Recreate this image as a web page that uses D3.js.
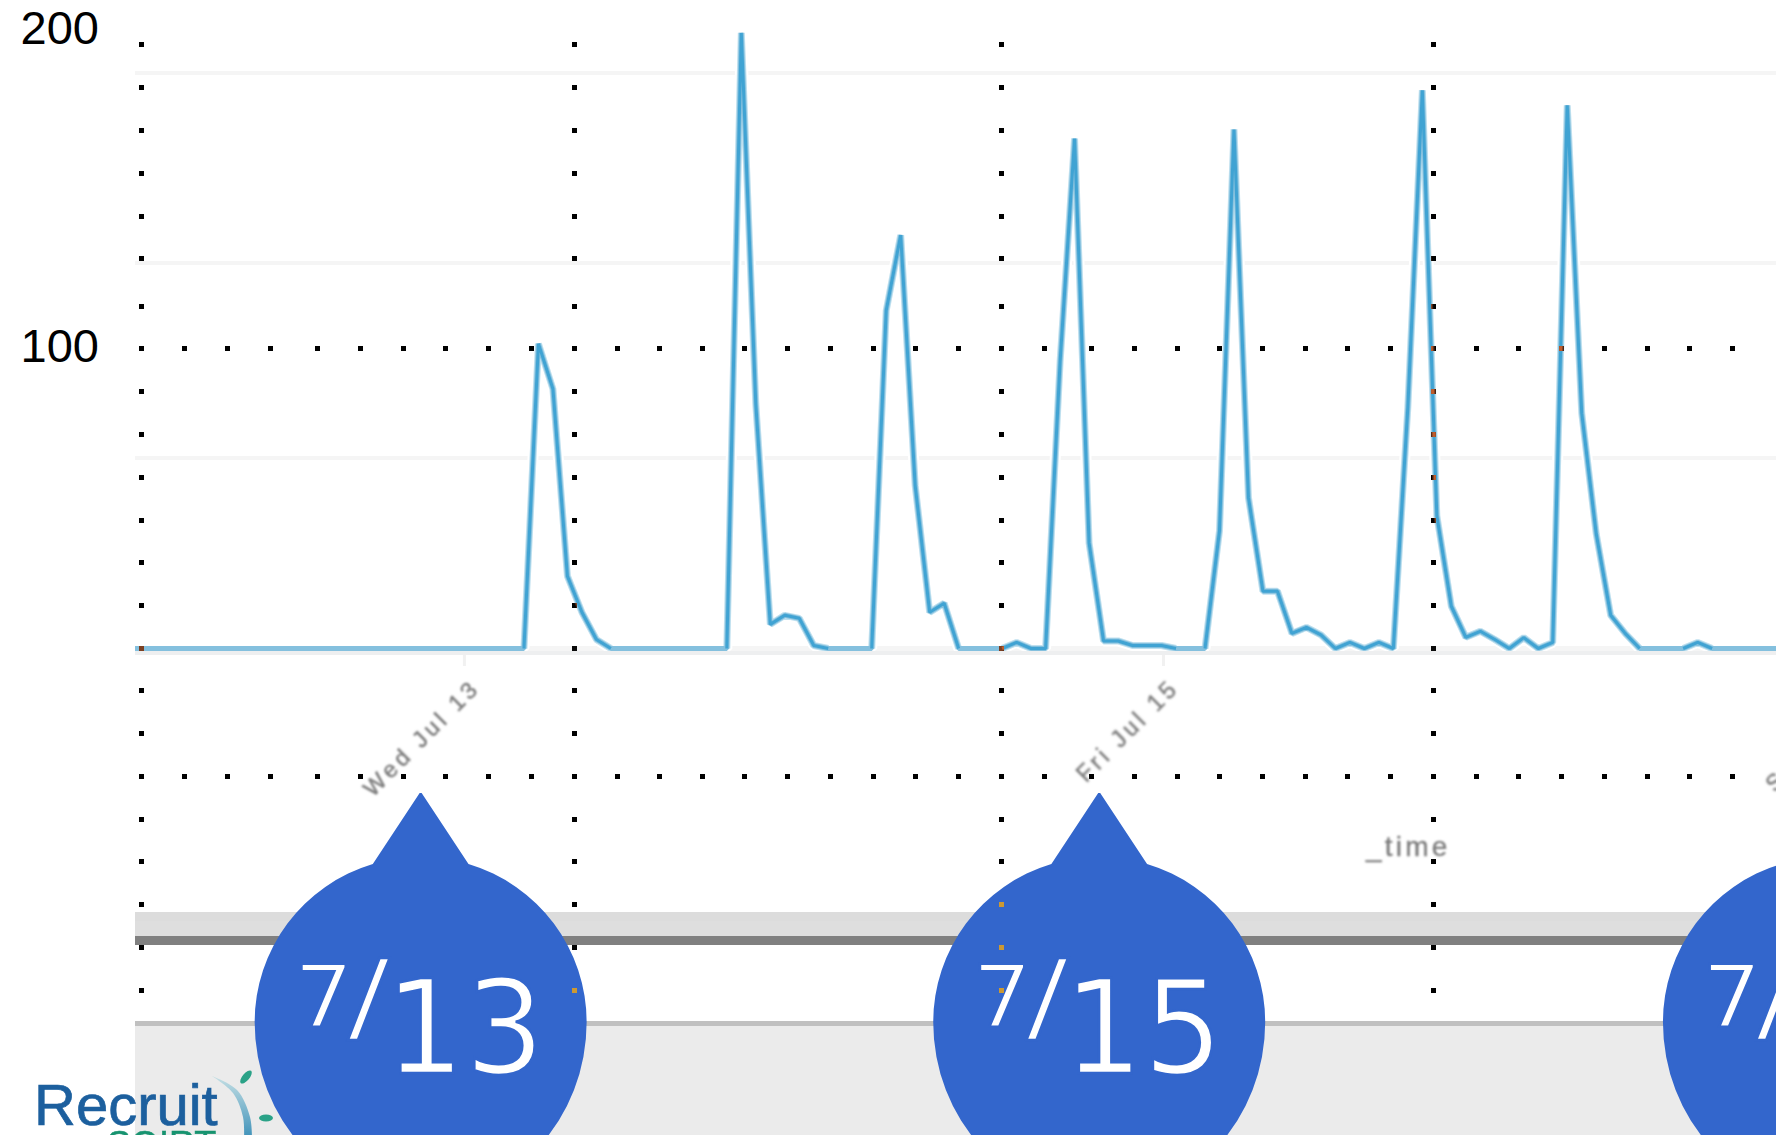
<!DOCTYPE html>
<html><head><meta charset="utf-8">
<script src="https://cdn.jsdelivr.net/npm/d3@7"></script>
<style>
html,body{margin:0;padding:0;background:#fff;overflow:hidden}
svg{display:block;font-family:"Liberation Sans",Arial,sans-serif}
</style></head><body>
<svg id="c" width="1776" height="1135"></svg>
<script>
// ---- data (hourly, hour 0 = first sample of Jul 13)
const firstHour = -23;
const series = [
 0,0,0,0,0,0,0,0,0,0,0,0,0,0,0,0,0,0,0,0,0,0,0,0,0,0,0, // -23..3
 0,101,86,24,12,3,0,0,0,0,0,0,0,0,                      // 4..17
 0,204,81,8,11,10,1,0,0,0,                              // 18..27
 0,112,137,54,12,15,0,0,0,0,2,0,                        // 28..39
 0,95,169,35,2.5,2.5,1,1,1,0,0,0,                       // 40..51
 39,172,50,19,19,5,7,4.5,0,2,0,2,0,                     // 52..64
 80,185,44,14,3.7,5.7,3,0,3.6,0,2,                      // 65..75
 180,78,38,11,5,0,0,0,0,2,0,0,0,0,0,0,0                 // 76..92
];
const yTickLabels = ["100","200"];
const yTickValues = [100,200];
const xTickHours = [-0.11,48.14,96.4];
const xTickLabels = ["Wed Jul 13","Fri Jul 15","Sun Jul 17"];
const dropHours = [-3.13,43.7,94.06];
const dropMonth = ["7","7","7"];
const dropDay = ["13","15","17"];

// ---- scales
const W=1776,H=1135;
const x=d3.scaleLinear().domain([0,100]).range([466,466+1449]);
const y=d3.scaleLinear().domain([0,200]).range([648.5,45]);
const hours=series.map((_,i)=>firstHour+i);

const svg=d3.select("#c");
const defs=svg.append("defs");
defs.append("clipPath").attr("id","plot").append("rect").attr("x",135).attr("y",0).attr("width",W-135).attr("height",H);
const soft=defs.append("filter").attr("id","soft").attr("x","-10%").attr("y","-10%").attr("width","120%").attr("height","120%");
soft.append("feGaussianBlur").attr("stdDeviation",1.1);
const soft2=defs.append("filter").attr("id","soft2").attr("filterUnits","userSpaceOnUse").attr("x",0).attr("y",0).attr("width",W).attr("height",H);
soft2.append("feGaussianBlur").attr("stdDeviation",0.6);
const arcGrad=defs.append("linearGradient").attr("id","arcG").attr("x1",0).attr("y1",0).attr("x2",0).attr("y2",1);
arcGrad.append("stop").attr("offset",0).attr("stop-color","#c5dfe4");
arcGrad.append("stop").attr("offset",1).attr("stop-color","#3a8fb8");

svg.append("rect").attr("width",W).attr("height",H).attr("fill","#fff");

// y axis labels
const labelY={100:362,200:43.5};
svg.append("g").selectAll("text").data(yTickValues).join("text")
  .attr("x",99).attr("y",d=>labelY[d]).attr("text-anchor","end")
  .attr("font-size",47).attr("fill","#000").text((d,i)=>yTickLabels[i]);

// faint grid
const gridYs=[458,263,73];
svg.append("g").selectAll("rect").data(gridYs).join("rect")
  .attr("x",135).attr("width",W-135).attr("y",d=>d-2).attr("height",4).attr("fill","#f5f5f5");
svg.append("rect").attr("x",135).attr("width",W-135).attr("y",646).attr("height",5).attr("fill","#f5f5f5");

// series: pale wide stroke everywhere, halo and darker core wherever the line is not flat on zero
const line=d3.line().x((d,i)=>x(hours[i])).y(d=>y(d));
const notFlat=(d,i)=>d!==0||(i>0&&series[i-1]!==0)||(i<series.length-1&&series[i+1]!==0);
const coreLine=d3.line().defined(notFlat).x((d,i)=>x(hours[i])).y(d=>y(d));
const plot=svg.append("g").attr("clip-path","url(#plot)");
plot.append("path").datum(series).attr("d",line).attr("fill","none").attr("stroke","#fff").attr("stroke-width",11).attr("stroke-linejoin","bevel");
svg.append("rect").attr("x",135).attr("width",W-135).attr("y",651).attr("height",4).attr("fill","#eeeff0");
plot.append("path").datum(series).attr("d",coreLine).attr("fill","none").attr("stroke","#bfe0ef").attr("stroke-width",7).attr("stroke-linejoin","bevel").attr("filter","url(#soft2)");
plot.append("path").datum(series).attr("d",line).attr("fill","none").attr("stroke","#84c0de").attr("stroke-width",5).attr("stroke-linejoin","bevel").attr("filter","url(#soft2)");
plot.append("path").datum(series).attr("d",coreLine).attr("fill","none").attr("stroke","#2f9bd0").attr("stroke-width",3).attr("stroke-opacity",.8).attr("stroke-linejoin","bevel");

// x ticks and labels
svg.append("g").selectAll("rect").data(xTickHours).join("rect")
  .attr("x",d=>x(d)-1.5).attr("y",655).attr("width",3).attr("height",11).attr("fill","#f1f1f1");
svg.append("g").attr("filter","url(#soft)").selectAll("text").data(xTickHours).join("text")
  .attr("transform",d=>`translate(${x(d)+17},${689}) rotate(-45)`)
  .attr("text-anchor","end").attr("font-size",23).attr("letter-spacing",3.9).attr("fill","#777")
  .attr("stroke","#888").attr("stroke-width",.6)
  .text((d,i)=>xTickLabels[i]);
svg.append("text").attr("x",1366).attr("y",856).attr("font-size",28).attr("letter-spacing",3.2)
  .attr("fill","#777").attr("stroke","#888").attr("stroke-width",.4).attr("filter","url(#soft)").text("_time");

// bands
const bands=[[912,9,"#dcdcdc"],[921,15,"#dedede"],[936,9,"#808080"],[1021,5,"#c0c0c0"],[1026,109,"#ebebeb"]];
svg.append("g").selectAll("rect").data(bands).join("rect")
  .attr("x",135).attr("width",W-135).attr("y",d=>d[0]).attr("height",d=>d[1]).attr("fill",d=>d[2]);

// logo
const logo=svg.append("g").attr("filter","url(#soft2)");
logo.append("text").attr("x",34).attr("y",1125).attr("font-size",58).attr("fill","#1b5f9e").attr("stroke","#1b5f9e").attr("stroke-width",.7).text("Recruit");
logo.append("text").attr("x",107).attr("y",1157).attr("font-size",36).attr("fill","#17936f").attr("stroke","#17936f").attr("stroke-width",.5).text("SOIRT");
const arcOuter=[[212,1076],[237,1090],[250,1117],[252,1140]];
const arcInner=[[244,1140],[243,1117],[233,1093],[212,1076]];
logo.append("path").attr("d",d3.line().curve(d3.curveCatmullRom)(arcOuter)+"L"+d3.line().curve(d3.curveCatmullRom)(arcInner).slice(1)+"Z")
  .attr("fill","url(#arcG)");
logo.append("ellipse").attr("cx",246).attr("cy",1077).attr("rx",8).attr("ry",3.5).attr("transform","rotate(-50 246 1077)").attr("fill","#2aa287");
logo.append("ellipse").attr("cx",266).attr("cy",1118).attr("rx",7).attr("ry",3.5).attr("fill","#2aa287");

// drops: pointed tip on a body slightly longer below its widest row
const tipY=793, midY=1022, rx=166, ryTop=165, ryBottom=178, shoulderY=864;
const shoulderX=rx*Math.sqrt(1-Math.pow((midY-shoulderY)/ryTop,2));
const drop=svg.append("g").selectAll("g").data(dropHours).join("g").attr("transform",d=>`translate(${x(d)},0)`);
drop.append("path").attr("fill","#3366cc").attr("d",
  `M-1,${tipY}L1,${tipY}L${shoulderX},${shoulderY}`+
  `A${rx},${ryTop} 0 0 1 ${rx},${midY}`+
  `A${rx},${ryBottom} 0 0 1 ${-rx},${midY}`+
  `A${rx},${ryTop} 0 0 1 ${-shoulderX},${shoulderY}Z`);
const txt=(sel)=>sel.attr("font-family","'DejaVu Sans'").attr("fill","#fff").attr("stroke","#3366cc");
txt(drop.append("text")).attr("x",-127).attr("y",1026).attr("font-size",86).attr("stroke-width",2.2)
  .attr("textLength",60).attr("lengthAdjust","spacingAndGlyphs").text((d,i)=>dropMonth[i]);
txt(drop.append("text")).attr("x",-73).attr("y",1031).attr("font-size",100).attr("stroke-width",2.4)
  .attr("textLength",42).attr("lengthAdjust","spacingAndGlyphs").text("/");
txt(drop.append("text")).attr("x",-36).attr("y",1073).attr("font-size",130).attr("stroke-width",2.6)
  .attr("textLength",160).attr("lengthAdjust","spacingAndGlyphs").text((d,i)=>dropDay[i]);

// dotted lattice, inverted against what lies beneath
const latticeCols=[141.6,574.5,1001.3,1433.4];
const latticeRowYs=[348.8,776.3];
const latticeColYs=[44.7,87.6,130.6,173.5,216,258.6,306.7,348.8,391.8,434.7,477.7,520,562.8,605.6,648.5,690.7,733.3,776.3,819.3,861,904.5,947,990];
const latticeRowXs=[141.6,184,227,270,317,360,403,445.6,488,531,574.5,617,659,702,744.6,787,830,873,915.7,958.2,1001.3,1044.3,1091.3,1134.3,1177.4,1219.9,1262.3,1305.4,1347.8,1390.3,1433.4,1476.4,1518.9,1561.3,1604.4,1647.4,1689.9,1732.4];
const cells=[];
latticeCols.forEach(cx=>latticeColYs.forEach(cy=>cells.push([cx,cy])));
latticeRowYs.forEach(ry=>latticeRowXs.forEach(rx=>{ if(!latticeCols.includes(rx)) cells.push([rx,ry]); }));
svg.append("g").selectAll("rect").data(cells).join("rect")
  .attr("x",d=>Math.round(d[0]-2.5)).attr("y",d=>Math.round(d[1]-2.5)).attr("width",5).attr("height",5)
  .attr("fill","#fff").style("mix-blend-mode","difference");
</script>
</body></html>
